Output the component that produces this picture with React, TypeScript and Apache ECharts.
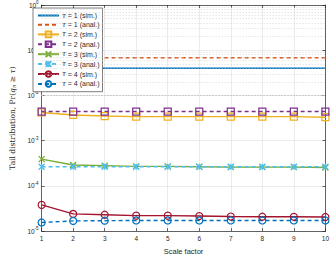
import React, { useEffect, useRef } from "react";
import * as echarts from "echarts";

const scaleFactors = [1, 2, 3, 4, 5, 6, 7, 8, 9, 10];
const tau1Sim = [0.040, 0.040, 0.040, 0.040, 0.040, 0.040, 0.040, 0.040, 0.040, 0.040];
const tau1Anal = [0.068, 0.068, 0.068, 0.068, 0.068, 0.068, 0.068, 0.068, 0.068, 0.068];
const tau2Sim = [0.0042, 0.0037, 0.0035, 0.0034, 0.0034, 0.0034, 0.0034, 0.0034, 0.0034, 0.0033];
const tau2Anal = [0.0044, 0.0044, 0.0044, 0.0044, 0.0044, 0.0044, 0.0044, 0.0044, 0.0044, 0.0044];
const tau3Sim = [3.9e-4, 2.9e-4, 2.8e-4, 2.7e-4, 2.7e-4, 2.65e-4, 2.6e-4, 2.6e-4, 2.6e-4, 2.55e-4];
const tau3Anal = [2.65e-4, 2.65e-4, 2.65e-4, 2.65e-4, 2.65e-4, 2.65e-4, 2.65e-4, 2.65e-4, 2.65e-4, 2.65e-4];
const tau4Sim = [3.8e-5, 2.4e-5, 2.3e-5, 2.2e-5, 2.2e-5, 2.15e-5, 2.1e-5, 2.08e-5, 2.07e-5, 2.05e-5];
const tau4Anal = [1.55e-5, 1.68e-5, 1.7e-5, 1.72e-5, 1.72e-5, 1.72e-5, 1.72e-5, 1.72e-5, 1.72e-5, 1.72e-5];
const legendNames = [
  "τ = 1 (sim.)",
  "τ = 1 (anal.)",
  "τ = 2 (sim.)",
  "τ = 2 (anal.)",
  "τ = 3 (sim.)",
  "τ = 3 (anal.)",
  "τ = 4 (sim.)",
  "τ = 4 (anal.)",
];
const xTicks = [1, 2, 3, 4, 5, 6, 7, 8, 9, 10];
const yMin = 1e-5;
const yMax = 1;

const SANS = "Liberation Sans";
const SERIF = "DejaVu Serif";
const CROSS = "path://M0 0L10 10M10 0L0 10";
const STAR = "path://M0 0L10 10M10 0L0 10M5 0L5 10";

function pairs(vals: number[]) {
  return scaleFactors.map((x, i) => [x, vals[i]]);
}

export default function App() {
  const ref = useRef<HTMLDivElement>(null);
  useEffect(() => {
    if (!ref.current) return;
    const chart = echarts.init(ref.current, null, { renderer: "svg" });
    const mk = (
      name: string,
      vals: number[],
      color: string,
      dashed: boolean,
      symbol: string,
      size: number
    ) => ({
      type: "line",
      name,
      data: pairs(vals),
      symbol: symbol === "none" ? "circle" : symbol,
      symbolSize: size,
      showSymbol: symbol !== "none",
      z: 3,
      lineStyle: { color, width: 1.4, type: dashed ? [4, 3] : "solid" },
      itemStyle: { color: "rgba(0,0,0,0)", borderColor: color, borderWidth: 1.2 },
      emphasis: { disabled: true },
    });
    const minorVals: number[] = [];
    for (let e = -5; e < 0; e++) {
      for (let k = 2; k <= 9; k++) minorVals.push(k * Math.pow(10, e));
    }
    const series: any[] = [
      mk(legendNames[0], tau1Sim, "#0072BD", false, "none", 0),
      mk(legendNames[1], tau1Anal, "#D95319", true, "none", 0),
      mk(legendNames[2], tau2Sim, "#EDB120", false, "rect", 7),
      mk(legendNames[3], tau2Anal, "#7E2F8E", true, "rect", 7),
      mk(legendNames[4], tau3Sim, "#77AC30", false, CROSS, 6),
      mk(legendNames[5], tau3Anal, "#4DBEEE", true, STAR, 6),
      mk(legendNames[6], tau4Sim, "#A2142F", false, "circle", 7),
      mk(legendNames[7], tau4Anal, "#0072BD", true, "circle", 7),
      {
        type: "line",
        name: "minor",
        data: [],
        z: 1,
        silent: true,
        markLine: {
          silent: true,
          symbol: "none",
          label: { show: false },
          lineStyle: { color: "#c8c8c8", type: [1, 2], width: 0.7 },
          data: minorVals.map((v) => ({ yAxis: v })),
        },
      },
    ];
    const tickLabel = {
      fontFamily: SANS,
      fontSize: 6.5,
      color: "#262626",
    };
    const hidden = { color: "rgba(0,0,0,0)", borderColor: "rgba(0,0,0,0)", borderWidth: 0 };
    chart.setOption({
      animation: false,
      grid: { left: 29, right: 6, top: 5, bottom: 22 },
      legend: {
        data: legendNames.map((n, i) => (i < 2 ? { name: n, itemStyle: hidden } : { name: n })),
        orient: "vertical",
        left: 33,
        top: 8,
        padding: [4, 3, 4, 4],
        itemWidth: 21,
        itemHeight: 7,
        itemGap: 2.3,
        backgroundColor: "#ffffff",
        borderColor: "#262626",
        borderWidth: 0.6,
        borderRadius: 0,
        selectedMode: false,
        textStyle: {
          fontFamily: SANS,
          fontSize: 7,
          color: "#262626",
          padding: [0, 0, 0, -2],
          rich: {
            t: { fontFamily: SERIF, fontStyle: "italic", fontSize: 7, color: "#262626" },
          },
        },
        formatter: (n: string) => "{t|τ}" + n.slice(1),
      },
      xAxis: [
        {
          type: "value",
          min: xTicks[0],
          max: xTicks[xTicks.length - 1],
          interval: 1,
          name: "Scale factor",
          nameLocation: "middle",
          nameGap: 15,
          nameTextStyle: { fontFamily: SANS, fontSize: 7.5, color: "#262626" },
          axisLine: { lineStyle: { color: "#262626", width: 0.7 } },
          axisTick: { inside: true, length: 3, lineStyle: { color: "#262626", width: 0.7 } },
          axisLabel: { ...tickLabel, margin: 4 },
          splitLine: { show: true, lineStyle: { color: "#e3e3e3", width: 0.7 } },
        },
        {
          type: "value",
          position: "top",
          min: xTicks[0],
          max: xTicks[xTicks.length - 1],
          interval: 1,
          axisLine: { show: true, lineStyle: { color: "#262626", width: 0.7 } },
          axisTick: { show: true, inside: true, length: 3, lineStyle: { color: "#262626", width: 0.7 } },
          axisLabel: { show: false },
          splitLine: { show: false },
        },
      ],
      yAxis: [
        {
          type: "log",
          logBase: 10,
          min: yMin,
          max: yMax,
          name: "{r|Tail distribution, Pr(}{i|q}{s|n}{r| ≥ }{i|τ}{r|)}",
          nameLocation: "middle",
          nameGap: 20,
          nameTextStyle: {
            fontFamily: SERIF,
            fontSize: 7.5,
            color: "#262626",
            rich: {
              r: { fontFamily: SERIF, fontSize: 7.5, color: "#262626" },
              i: { fontFamily: SERIF, fontSize: 7.5, fontStyle: "italic", color: "#262626" },
              s: { fontFamily: SERIF, fontSize: 5.5, fontStyle: "italic", color: "#262626", padding: [3, 0, 0, 0] },
            },
          },
          axisLine: { show: true, lineStyle: { color: "#262626", width: 0.7 } },
          axisTick: { show: true, inside: true, length: 3, lineStyle: { color: "#262626", width: 0.7 } },
          axisLabel: {
            margin: 3,
            formatter: (v: number) => {
              const e = Math.round(Math.log10(v));
              return "{b|10}{s|" + (e === 0 ? "0" : "-" + Math.abs(e)) + "}";
            },
            rich: {
              b: { ...tickLabel, fontSize: 6.5 },
              s: { ...tickLabel, fontSize: 4.5, padding: [0, 0, 5, 0] },
            },
          },
          splitLine: { show: true, lineStyle: { color: "#e3e3e3", width: 0.7 } },
        },
        {
          type: "log",
          logBase: 10,
          min: yMin,
          max: yMax,
          position: "right",
          axisLine: { show: true, lineStyle: { color: "#262626", width: 0.7 } },
          axisTick: { show: true, inside: true, length: 3, lineStyle: { color: "#262626", width: 0.7 } },
          axisLabel: { show: false },
          splitLine: { show: false },
        },
      ],
      series,
    });
    return () => chart.dispose();
  }, []);
  return <div ref={ref} style={{ width: 332, height: 260, position: "absolute", left: 0, top: 0, background: "#fff" }} />;
}
